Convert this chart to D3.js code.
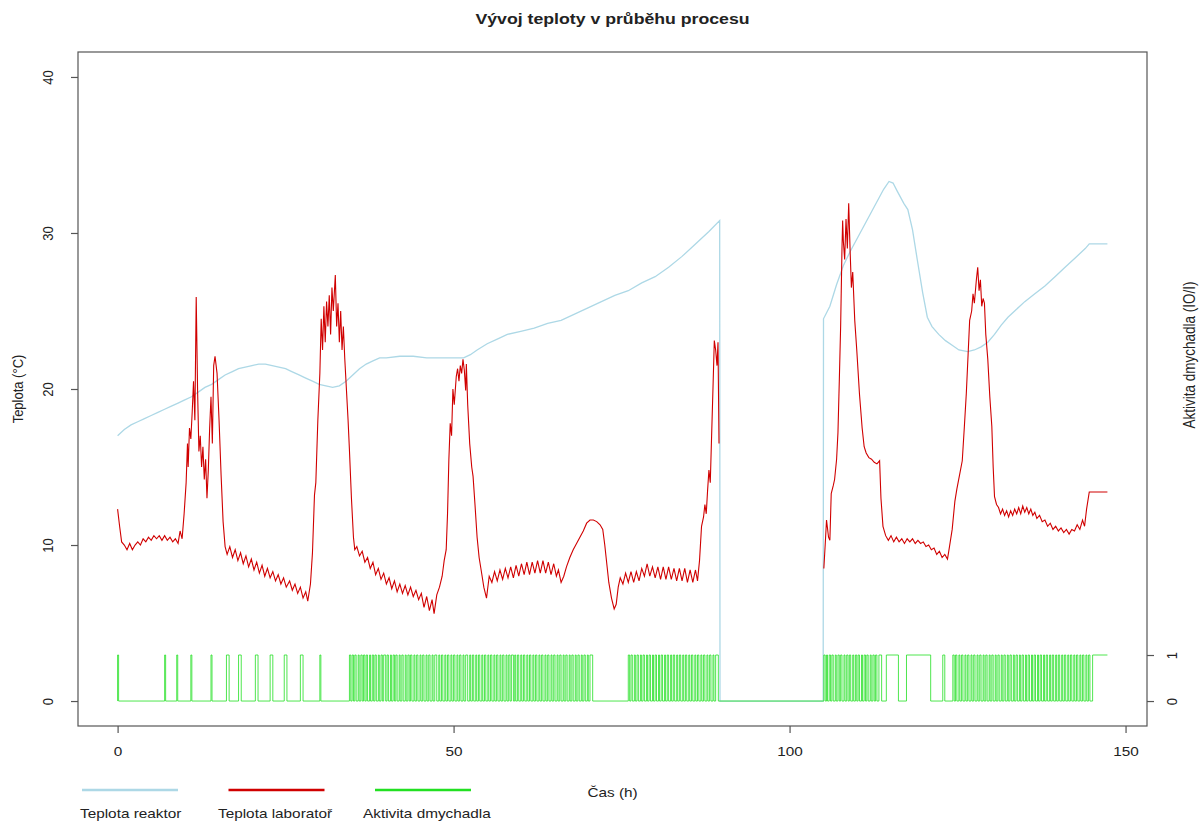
<!DOCTYPE html>
<html>
<head>
<meta charset="utf-8">
<script src="https://cdn.jsdelivr.net/npm/d3@7"></script>
<style>
body{margin:0;background:#fff;}
text{font-family:"Liberation Sans",Arial,sans-serif;fill:#222;}
</style>
</head>
<body>
<svg id="graph"></svg>
<script>
// time (h), temperature (°C) of the reactor
var reaktor = [[0,17.0],[1,17.4],[2,17.7],[3,17.9],[4,18.1],[5,18.3],[6,18.5],[7,18.7],[8,18.9],[9,19.1],[10,19.3],
    [11,19.5],[12,19.8],[13,20.1],[14,20.3],[15,20.6],[16,20.9],[17,21.1],[18,21.3],[19,21.4],[20,21.5],[21,21.6],
    [22,21.6],[23,21.5],[24,21.4],[25,21.3],[26,21.1],[27,20.9],[28,20.7],[29,20.5],[30,20.3],[31,20.2],[32,20.1],
    [33,20.2],[34,20.5],[35,20.9],[36,21.3],[37,21.6],[38,21.8],[39,22.0],[40,22.0],[42,22.1],[44,22.1],[46,22.0],
    [48,22.0],[50,22.0],[51.5,22.0],[52.5,22.2],[53.5,22.5],[55,22.9],[56.5,23.2],[58,23.5],[60,23.7],[62,23.9],
    [64,24.2],[66,24.4],[68,24.8],[70,25.2],[72,25.6],[74,26.0],[76,26.3],[78,26.8],[80,27.2],[82,27.8],[84,28.5],
    [86,29.3],[88,30.1],[89.6,30.8],[89.65,0],[105.0,0],[105.05,24.5],[106,25.3],[107,26.7],[108,27.9],[109,28.8],
    [110,29.6],[111,30.4],[112,31.2],[113,32.0],[114,32.8],[114.8,33.3],[115.4,33.2],[116,32.7],[117,31.9],
    [117.6,31.5],[118.3,30.2],[119,28.3],[119.8,26.2],[120.5,24.6],[121.2,24.0],[122.2,23.5],[123.2,23.1],
    [124.2,22.8],[125.2,22.5],[126.5,22.4],[127.5,22.5],[128.5,22.7],[129.5,23.0],[130.5,23.5],[131.5,24.1],
    [132.5,24.6],[133.5,25.0],[135,25.6],[136.5,26.1],[138,26.6],[139.5,27.2],[141,27.8],[142.5,28.4],[144,29.0],
    [144.6,29.3],[147.3,29.3]]

// time (h), temperature (°C) of the laboratory, null = no measurement
var laborator = [[0,12.3],[0.3,11.2],[0.6,10.2],[1.0,10.0],[1.4,9.7],[1.8,10.1],[2.2,9.7],[2.6,10.0],[3.0,10.2],
    [3.4,10.0],[3.8,10.4],[4.2,10.2],[4.6,10.5],[5.0,10.3],[5.4,10.6],[5.8,10.4],[6.2,10.6],[6.6,10.3],[7.0,10.6],
    [7.4,10.3],[7.8,10.5],[8.2,10.2],[8.6,10.4],[9.0,10.1],[9.3,10.9],[9.6,10.4],
    [9.9,12.0],[10.2,14.0],[10.4,16.5],[10.5,15.0],[10.7,17.5],[10.9,16.8],[11.1,18.5],[11.3,20.5],[11.5,18.0],
    [11.7,25.9],[11.9,20.0],[12.1,16.0],[12.3,17.0],[12.5,15.0],[12.7,16.3],[12.9,14.2],[13.1,15.5],[13.3,13.0],
    [13.5,14.8],[13.7,17.5],[13.9,19.5],[14.1,16.5],[14.3,21.5],[14.5,22.1],[14.8,21.0],[15.1,18.0],[15.4,14.5],
    [15.7,11.5],[16.0,9.9],
    [16.3,9.4],[16.7,9.9],[17.1,9.2],[17.5,9.7],[17.9,9.0],[18.3,9.5],[18.7,8.8],[19.1,9.3],[19.5,8.6],[19.9,9.1],
    [20.3,8.4],[20.7,8.9],[21.1,8.2],[21.5,8.7],[21.9,8.0],[22.3,8.5],[22.7,7.9],[23.1,8.3],[23.5,7.7],[23.9,8.1],
    [24.3,7.5],[24.7,7.9],[25.1,7.3],[25.6,7.7],[26.0,7.1],[26.4,7.5],[26.8,6.9],[27.2,7.3],[27.6,6.6],[28.0,7.0],
    [28.3,6.4],
    [28.7,7.5],[29.0,9.5],[29.3,13.2],[29.5,14.0],[29.8,18.0],[30.1,21.0],[30.3,24.5],[30.5,22.5],[30.7,25.3],
    [30.9,23.0],[31.1,25.6],[31.3,24.0],[31.5,26.0],[31.7,23.5],[31.9,26.5],[32.1,25.0],[32.4,27.3],[32.6,24.0],
    [32.8,25.5],[33.0,23.0],[33.2,25.0],[33.4,22.5],[33.6,24.0],[33.8,22.0],[34.0,20.4],[34.3,18.0],[34.5,16.1],
    [34.8,13.0],[35.1,10.5],[35.3,9.7],
    [35.6,9.9],[36.0,9.3],[36.4,9.6],[36.8,8.9],[37.2,9.2],[37.6,8.5],[38.0,8.9],[38.4,8.1],[38.8,8.5],[39.2,7.8],
    [39.6,8.2],[40.0,7.5],[40.4,7.9],[40.8,7.2],[41.2,7.7],[41.6,7.0],[42.0,7.5],[42.4,6.9],[42.8,7.4],[43.2,6.8],
    [43.6,7.3],[44.0,6.7],[44.4,7.1],[44.8,6.5],[45.2,6.9],[45.6,6.0],[46.0,6.7],[46.4,5.8],[46.8,6.5],[47.1,5.6],
    [47.5,6.8],[47.9,7.3],[48.3,8.0],[48.6,9.0],[48.9,9.7],[49.1,12.0],[49.3,15.5],[49.5,17.8],[49.7,17.0],
    [49.9,20.0],[50.1,19.0],[50.4,20.8],[50.6,21.3],[50.8,20.5],[51.0,21.5],[51.2,21.0],[51.4,21.9],[51.6,21.2],
    [51.8,19.9],[51.9,21.6],[52.1,19.0],[52.4,16.5],[52.7,15.0],[52.9,14.4],[53.2,12.5],[53.5,10.5],[53.8,9.2],
    [54.1,8.4],[54.5,7.3],[54.9,6.6],
    [55.3,8.0],[55.7,7.6],[56.1,8.3],[56.5,7.7],[56.9,8.4],[57.3,7.8],[57.7,8.5],[58.1,7.9],[58.5,8.6],[58.9,7.9],
    [59.3,8.7],[59.7,8.0],[60.1,8.8],[60.5,8.1],[60.9,8.9],[61.3,8.1],[61.7,8.9],[62.1,8.2],[62.5,9.0],[62.9,8.2],
    [63.3,9.0],[63.7,8.2],[64.1,8.9],[64.5,8.1],[64.9,8.8],[65.3,8.0],[65.6,8.4],[66.0,7.6],
    [66.4,8.0],[66.8,8.6],[67.3,9.2],[67.8,9.7],[68.3,10.1],[68.8,10.5],[69.3,10.9],[69.8,11.4],[70.3,11.6],
    [70.8,11.6],[71.3,11.5],[71.8,11.3],[72.2,11.0],[72.5,10.0],[72.8,8.8],[73.1,7.6],[73.5,6.6],[73.9,5.9],
    [74.2,6.2],[74.5,7.3],[74.8,7.9],
    [75.2,7.5],[75.6,8.2],[76.0,7.6],[76.4,8.3],[76.8,7.6],[77.2,8.3],[77.6,7.7],[78.0,8.5],[78.4,8.0],[78.8,8.8],
    [79.2,8.0],[79.6,8.6],[80.0,7.9],[80.4,8.6],[80.8,7.8],[81.2,8.6],[81.6,7.8],[82.0,8.6],[82.4,7.8],[82.8,8.5],
    [83.2,7.7],[83.6,8.5],[84.0,7.7],[84.4,8.5],[84.8,7.6],[85.2,8.4],[85.6,7.6],[86.0,8.4],[86.3,7.7],
    [86.6,9.0],[86.9,11.2],[87.2,11.8],[87.4,12.6],[87.6,12.0],[87.8,13.5],[88.0,14.8],[88.2,14.0],[88.4,17.0],
    [88.6,20.0],[88.8,23.1],[89.0,22.5],[89.2,21.5],[89.35,23.0],[89.5,16.5],[89.6,null],[105.0,null],
    [105.1,8.5],[105.3,10.0],[105.5,11.6],[105.8,10.5],[106.0,10.3],[106.2,13.3],[106.5,13.8],[106.7,14.2],
    [107.0,15.5],[107.2,17.2],[107.4,20.5],[107.6,24.0],[107.8,29.0],[107.9,30.8],[108.0,29.5],[108.2,28.3],
    [108.4,30.9],[108.6,29.0],[108.8,31.9],[109.0,29.0],[109.2,26.5],[109.4,27.5],[109.7,24.4],[110.0,22.5],
    [110.4,19.7],[110.8,17.5],[111.1,16.3],[111.4,15.9],[111.8,15.6],[112.2,15.5],[112.6,15.3],[113.0,15.2],
    [113.4,15.4],[113.6,13.0],[113.9,11.2],
    [114.3,10.6],[114.7,10.3],[115.1,10.6],[115.5,10.2],[115.9,10.5],[116.3,10.2],[116.7,10.4],[117.1,10.1],
    [117.5,10.4],[117.9,10.2],[118.3,10.4],[118.7,10.1],[119.1,10.3],[119.5,10.1],[119.9,10.2],[120.3,9.9],
    [120.7,10.0],[121.1,9.7],[121.5,9.8],[121.9,9.4],[122.3,9.6],[122.7,9.2],[123.1,9.4],[123.5,9.1],[123.8,9.9],
    [124.2,11.0],[124.6,12.8],[124.9,13.6],[125.3,14.5],[125.7,15.4],[126.0,17.5],[126.3,19.7],[126.6,22.5],
    [126.8,24.4],[127.1,25.0],[127.3,26.1],[127.5,25.5],[127.8,27.0],[128.0,27.8],[128.2,26.3],[128.4,27.0],
    [128.6,25.3],[128.8,25.8],[129.0,25.5],[129.2,23.5],[129.5,21.9],[129.8,19.5],[130.1,17.6],[130.3,15.0],
    [130.5,13.1],
    [130.8,12.6],[131.1,12.4],[131.4,12.0],[131.7,12.3],[132.0,11.9],[132.3,12.2],[132.6,11.8],[132.9,12.2],
    [133.2,11.9],[133.5,12.3],[133.8,12.0],[134.1,12.4],[134.4,12.0],[134.7,12.5],[135.0,12.1],[135.3,12.4],
    [135.6,12.0],[135.9,12.3],[136.2,11.9],[136.5,12.1],[136.8,11.7],[137.2,11.9],[137.6,11.5],[138.0,11.6],
    [138.4,11.2],[138.8,11.4],[139.2,11.0],[139.6,11.2],[140.0,10.9],[140.4,11.1],[140.8,10.8],[141.2,11.0],
    [141.6,10.7],[142.0,11.0],[142.4,10.9],[142.8,11.3],[143.2,11.0],[143.6,11.6],[143.9,11.2],[144.2,12.3],
    [144.6,13.4],[147.3,13.4]]

// blower switched on: [from, to] in hours
var dmychadlo = [[0,0.15],[7.0,7.15],[8.8,8.95],[10.9,11.05],[13.9,14.05],[16.2,16.6],[18.0,18.4],[20.5,20.9],
    [22.7,23.1],[24.8,25.2],[27.2,27.6],[30.1,30.25],
    [34.5,34.7],[34.9,35.1],[35.3,35.5],[35.8,35.95],[36.2,36.4],[36.6,36.8],[37.0,37.2],[37.5,37.65],[37.9,38.1],
    [38.3,38.5],[38.8,38.95],[39.2,39.4],[39.6,39.9],[40.1,40.3],[40.6,40.75],[41.0,41.2],[41.4,41.6],[41.9,42.05],
    [42.3,42.5],[42.8,42.95],[43.2,43.4],[43.6,43.8],[44.1,44.25],[44.5,44.7],[45.0,45.15],[45.4,45.6],[45.9,46.05],
    [46.3,46.5],[46.8,46.95],[47.2,47.5],[47.8,47.95],[48.2,48.4],[48.7,48.85],[49.1,49.3],[49.6,49.75],[50.0,50.2],
    [50.5,50.65],[50.9,51.1],[51.4,51.55],[51.8,52.1],[52.4,52.55],[52.8,53.0],[53.3,53.45],[53.7,53.9],[54.2,54.35],
    [54.6,54.8],[55.1,55.25],[55.5,55.7],[56.0,56.15],[56.4,56.6],[56.9,57.05],[57.3,57.5],[57.8,57.95],[58.2,58.4],
    [58.6,58.9],[59.1,59.25],[59.5,59.7],[60.0,60.15],[60.4,60.6],[60.9,61.05],[61.3,61.5],[61.8,61.95],[62.2,62.4],
    [62.7,62.85],[63.1,63.3],[63.6,63.75],[64.0,64.2],[64.5,64.65],[64.9,65.1],[65.4,65.55],[65.8,66.0],[66.3,66.45],
    [66.7,66.9],[67.2,67.35],[67.6,67.8],[68.1,68.25],[68.5,68.7],[69.0,69.15],[69.4,69.6],[69.9,70.05],[70.3,70.7],
    [76.0,76.2],[76.4,76.6],[76.9,77.05],[77.3,77.5],[77.8,77.95],[78.2,78.4],[78.7,78.85],[79.1,79.3],[79.6,79.75],
    [80.0,80.2],[80.5,80.65],[80.9,81.1],[81.4,81.55],[81.8,82.0],[82.3,82.45],[82.7,82.9],[83.2,83.35],[83.6,83.8],
    [84.1,84.25],[84.5,84.7],[85.0,85.15],[85.4,85.6],[85.9,86.05],[86.3,86.5],[86.8,86.95],[87.2,87.4],[87.7,87.85],
    [88.1,88.3],[88.6,88.75],[89.0,89.4],
    [105.1,105.3],[105.5,105.65],[105.9,106.1],[106.3,106.5],[106.8,106.95],[107.2,107.4],[107.6,107.8],
    [108.1,108.25],[108.5,108.7],[108.9,109.1],[109.4,109.55],[109.8,110.0],[110.2,110.4],[110.7,110.85],
    [111.1,111.3],[111.5,111.7],[112.0,112.15],[112.4,112.6],[112.8,113.0],[113.3,113.7],
    [114.4,116.2],[117.4,121.0],[122.8,123.1],
    [124.3,124.5],[124.7,124.9],[125.2,125.35],[125.6,125.8],[126.1,126.25],[126.5,126.7],[127.0,127.15],
    [127.4,127.6],[127.9,128.05],[128.3,128.5],[128.8,128.95],[129.2,129.4],[129.7,129.85],[130.1,130.3],
    [130.6,130.75],[131.0,131.2],[131.5,131.65],[131.9,132.1],[132.4,132.55],[132.8,133.0],[133.3,133.45],
    [133.7,133.9],[134.2,134.35],[134.6,134.8],[135.1,135.25],[135.5,135.7],[136.0,136.15],[136.4,136.6],
    [136.9,137.05],[137.3,137.5],[137.8,137.95],[138.2,138.4],[138.7,138.85],[139.1,139.3],[139.6,139.75],
    [140.0,140.2],[140.5,140.65],[140.9,141.1],[141.4,141.55],[141.8,142.0],[142.3,142.45],[142.7,142.9],
    [143.2,143.35],[143.6,143.8],[144.1,144.25],[144.5,144.7],[145.1,147.3]]

var xTicks = [0,50,100,150]
var yTicks = [0,10,20,30,40]
var actTicks = [0,1]

var series = [
    {name:"Teplota reaktor", color:"#add8e6"},
    {name:"Teplota laboratoř", color:"#d00000"},
    {name:"Aktivita dmychadla", color:"#22e022"}
]

var screen = {width:1203,height:823}
var margins = {left:78,right:56,top:52,bottom:97}
var graph = {
    width:screen.width-margins.left-margins.right,
    height:screen.height-margins.top-margins.bottom
}
// the picture is a bit wider than tall, text too
var stretch = "scale(1.18,1)"

var svg = d3.select("#graph")
    .attr("width",screen.width)
    .attr("height",screen.height)

// R style: 4% extra on each side of the data range
var xScale = d3.scaleLinear()
    .domain([-0.04*147.3,147.3*1.04])
    .range([0,graph.width])
var yScale = d3.scaleLinear()
    .domain([-1.6,41.6])
    .range([graph.height,0])
// blower 0/1 drawn on its own small scale at the bottom
var actScale = d3.scaleLinear()
    .domain([0,1])
    .range([yScale(0),yScale(2.95)])

var target = svg.append("g")
    .attr("transform","translate("+margins.left+","+margins.top+")")

target.append("clipPath").attr("id","clip")
    .append("rect").attr("width",graph.width).attr("height",graph.height)

var plot = target.append("g").attr("clip-path","url(#clip)")

// step line for the blower
var actPoints = []
dmychadlo.forEach(function(p){
    actPoints.push([p[0],0],[p[0],1],[p[1],1],[p[1],0])
})
actPoints.pop() // last run is still on at the end

var actLine = d3.line()
    .x(function(d){return xScale(d[0])})
    .y(function(d){return actScale(d[1])})

var tempLine = d3.line()
    .defined(function(d){return d[1]!==null})
    .x(function(d){return xScale(d[0])})
    .y(function(d){return yScale(d[1])})

plot.append("path")
    .datum(reaktor)
    .attr("d",tempLine)
    .attr("fill","none")
    .attr("stroke",series[0].color)
    .attr("stroke-width",1.3)

plot.append("path")
    .datum(laborator)
    .attr("d",tempLine)
    .attr("fill","none")
    .attr("stroke",series[1].color)
    .attr("stroke-width",1.1)

plot.append("path")
    .datum(actPoints)
    .attr("d",actLine)
    .attr("fill","none")
    .attr("stroke",series[2].color)
    .attr("stroke-width",0.8)

// box
target.append("rect")
    .attr("width",graph.width)
    .attr("height",graph.height)
    .attr("fill","none")
    .attr("stroke","#555")
    .attr("stroke-width",1.2)

var drawAxes = function(){
    var xAxis = d3.axisBottom(xScale).tickValues(xTicks).tickSize(7).tickPadding(14)
    var yAxis = d3.axisLeft(yScale).tickValues(yTicks).tickSize(7)
    var rAxis = d3.axisRight(actScale).tickValues(actTicks).tickSize(7).tickFormat(d3.format("d"))

    var gx = target.append("g")
        .attr("transform","translate(0,"+graph.height+")")
        .call(xAxis)
    var gy = target.append("g").call(yAxis)
    var gr = target.append("g")
        .attr("transform","translate("+graph.width+",0)")
        .call(rAxis)

    ;[gx,gy,gr].forEach(function(g){
        g.select(".domain").remove()
        g.selectAll("line").attr("stroke","#555").attr("stroke-width",1.2)
        g.selectAll("text").attr("font-size",13).attr("fill","#333")
            .attr("font-family","Liberation Sans, Arial, sans-serif")
    })
    gx.selectAll("text").attr("transform",stretch)
    gy.selectAll("text")
        .attr("x",null).attr("dy","0.35em")
        .attr("text-anchor","middle")
        .attr("transform","translate(-30,0) "+stretch+" rotate(-90)")
    gr.selectAll("text")
        .attr("x",null).attr("dy","0.35em")
        .attr("text-anchor","middle")
        .attr("transform","translate(25,0) "+stretch+" rotate(-90)")
}

var drawLabels = function(){
    svg.append("text")
        .text("Vývoj teploty v průběhu procesu")
        .attr("text-anchor","middle")
        .attr("font-size",15)
        .attr("font-weight","bold")
        .attr("transform","translate("+(margins.left+graph.width/2)+",24) "+stretch)

    svg.append("text")
        .text("Čas (h)")
        .attr("text-anchor","middle")
        .attr("font-size",13)
        .attr("transform","translate("+(margins.left+graph.width/2)+",797) "+stretch)

    svg.append("text")
        .text("Teplota (°C)")
        .attr("text-anchor","middle")
        .attr("font-size",13)
        .attr("transform","translate(23,"+(margins.top+graph.height/2)+") "+stretch+" rotate(-90)")

    svg.append("text")
        .text("Aktivita dmychadla (IO/I)")
        .attr("text-anchor","middle")
        .attr("font-size",13.5)
        .attr("transform","translate(1195,355) "+stretch+" rotate(-90)")
}

var legendTextX = [-2,-10.5,-12]

var drawLegend = function(){
    var legend = svg.append("g")
        .attr("transform","translate(82,790)")
    var entries = legend.selectAll("g")
        .data(series)
        .enter()
        .append("g")
        .attr("transform",function(d,i){return "translate("+(i*146.5)+",0)"})
    entries.append("line")
        .attr("x1",0).attr("x2",96)
        .attr("stroke",function(d){return d.color})
        .attr("stroke-width",2.5)
    entries.append("text")
        .text(function(d){return d.name})
        .attr("font-size",13)
        .attr("transform",function(d,i){return "translate("+legendTextX[i]+",28) "+stretch})
}

drawAxes()
drawLabels()
drawLegend()
</script>
</body>
</html>
